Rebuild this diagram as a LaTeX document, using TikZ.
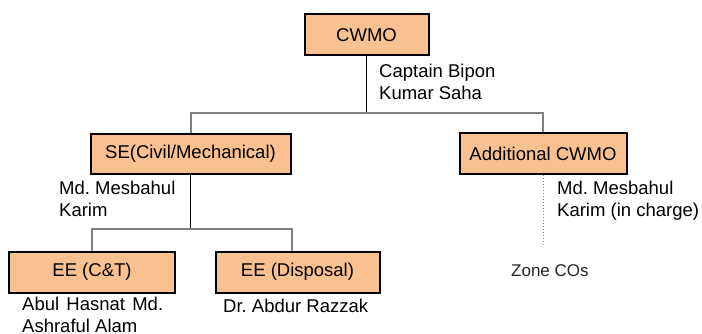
\documentclass[tikz,border=0pt]{standalone}
\usepackage{fontspec}
\setmainfont{Liberation Sans}
\frenchspacing
\begin{document}
\begin{tikzpicture}[x=1pt,y=-1pt,
  post/.style={draw=black,line width=2pt,fill=postfill,inner sep=0pt,
    font=\fontsize{18.5}{22}\selectfont},
  holder/.style={anchor=base west,inner sep=0pt,align=left,
    font=\fontsize{18.5}{22}\selectfont},
  stem/.style={draw=black,line width=1pt},
  bus/.style={draw=black!50,line width=2pt},
  dotline/.style={draw=black!45,line width=1pt,dotted}]
\definecolor{postfill}{RGB}{249,192,144}
\useasboundingbox (0,0) rectangle (702,334);

% posts
\node[post,minimum width=124pt,minimum height=41pt] (cwmo) at (366.5,35) {CWMO};
\node[post,minimum width=200pt,minimum height=40pt] (se) at (190.5,154) {SE(Civil/Mechanical)};
\node[post,minimum width=167pt,minimum height=41pt] (add) at (543,153.5) {Additional CWMO};
\node[post,minimum width=166pt,minimum height=41pt] (ct) at (92,272) {EE (C\&T)};
\node[post,minimum width=164pt,minimum height=41pt] (dis) at (297.5,272) {EE (Disposal)};

% office holders (two-line names sit on the baseline of their last line)
\node[holder] (n1) at (379,100) {Captain Bipon\\Kumar Saha};
\node[holder] (n2) at (59,216) {Md. Mesbahul\\Karim};
\node[holder] (n3) at (557,216) {Md. Mesbahul\\Karim (in charge)};
\node[holder] (n4) at (22,332) {\makebox[141pt][s]{Abul Hasnat Md.}\\Ashraful Alam};
\node[holder] (n5) at (223,312) {Dr. Abdur Razzak};
\node[anchor=base west,inner sep=0pt,text=black!85,font=\fontsize{17}{20}\selectfont] (zone) at (511,276) {Zone COs};

% connectors
\coordinate (b1) at (366.5,113.5);
\coordinate (b2) at (190.5,228.5);
\coordinate (b2r) at (292,228.5);
\coordinate (zend) at (545,247);
\draw[stem] (cwmo.south) -- (b1);
\draw[bus] (se.north) -- (se.north |- b1) -- (add.north |- b1) -- (add.north);
\draw[stem] (se.south) -- (b2);
\draw[bus] (ct.north) -- (ct.north |- b2) -- (b2r) -- (b2r |- dis.north);
\draw[dotline] (add.south) -- (add.south |- zend);
\end{tikzpicture}
\end{document}
